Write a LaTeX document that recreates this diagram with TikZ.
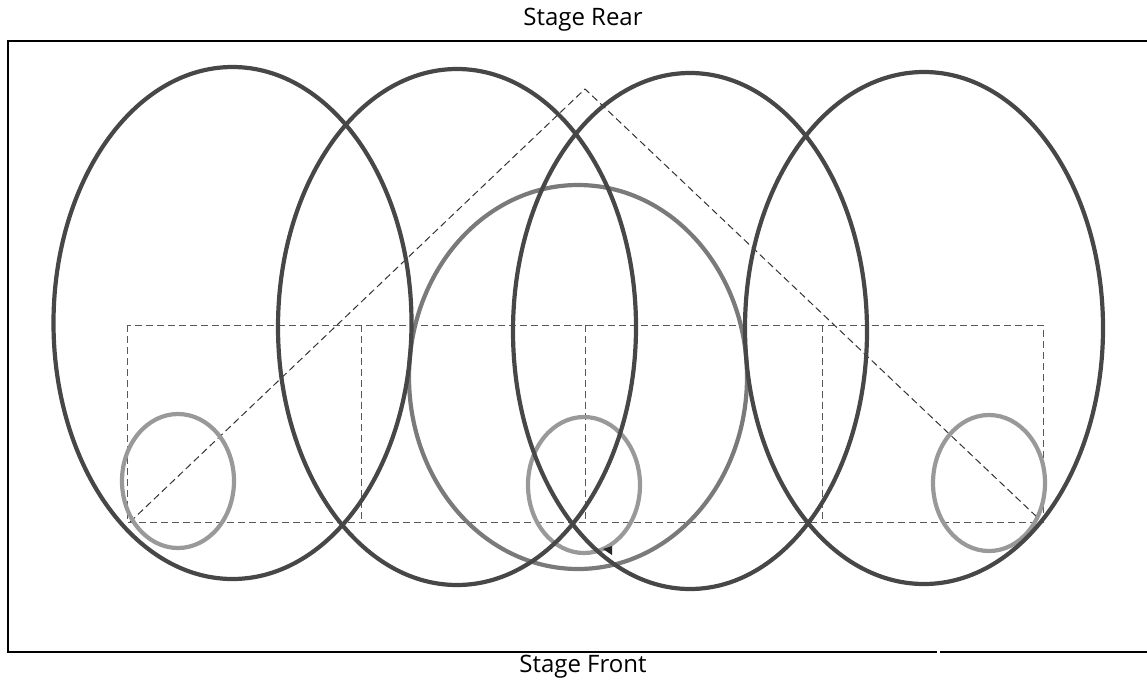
\documentclass[tikz,border=0pt]{standalone}
\usepackage{fontspec}
\setmainfont{Open Sans}
\begin{document}
\begin{tikzpicture}[x=1pt,y=-1pt,
  frame/.style={line width=2.4pt,black},
  bigell/.style={line width=4.2pt,draw=black!72},
  midell/.style={line width=4.2pt,draw=black!52},
  smallell/.style={line width=4.2pt,draw=black!40},
  guide/.style={line width=1pt,draw=black!80,dash pattern=on 7pt off 4pt},
  box/.style={line width=1pt,draw=black!65,dash pattern=on 7pt off 4pt},
  lbl/.style={font=\fontsize{24}{28}\selectfont,inner sep=0pt}]
\useasboundingbox (0,0) rectangle (1147,683);
% frame
\coordinate (tr) at (1147,41);
\coordinate (tl) at (8,41);
\coordinate (bl) at (8,652);
\coordinate (bm1) at (937,652);
\coordinate (bm2) at (940,652);
\coordinate (br) at (1147,652);
\draw[frame] (tr) -- (tl) -- (bl) -- (bm1);
\draw[frame] (bm2) -- (br);
\node[lbl] (rear) at (583,20) {Stage Rear};
\node[lbl] (front) at (583,667) {Stage Front};
% dashed boxes
\draw[box] (127,325) rectangle (1043,522);
\draw[box] (361,325) -- (361,522);
\draw[box] (585,325) -- (585,522);
\draw[box] (822,325) -- (822,522);
% dashed triangle
\coordinate (t1) at (130,522);
\coordinate (t2) at (585,89);
\coordinate (t3) at (1038,518);
\draw[guide] (t1) -- (t2) -- (t3);
% small circles
\draw[smallell] (178,481) ellipse [x radius=56, y radius=67];
\draw[smallell] (584,485) ellipse [x radius=56, y radius=68];
\draw[smallell] (989,483) ellipse [x radius=56, y radius=68];
% middle ellipse
\draw[midell] (578,377) ellipse [x radius=169, y radius=192];
% big ellipses
\draw[bigell] (232.5,323) ellipse [x radius=179, y radius=256];
\draw[bigell] (457,327) ellipse [x radius=179, y radius=258];
\draw[bigell] (690,331) ellipse [x radius=177, y radius=258];
\draw[bigell] (924,328) ellipse [x radius=179, y radius=256];
% small marker
\fill[black!85] (603,549) -- (612,546) -- (612,555) -- cycle;
\end{tikzpicture}
\end{document}
